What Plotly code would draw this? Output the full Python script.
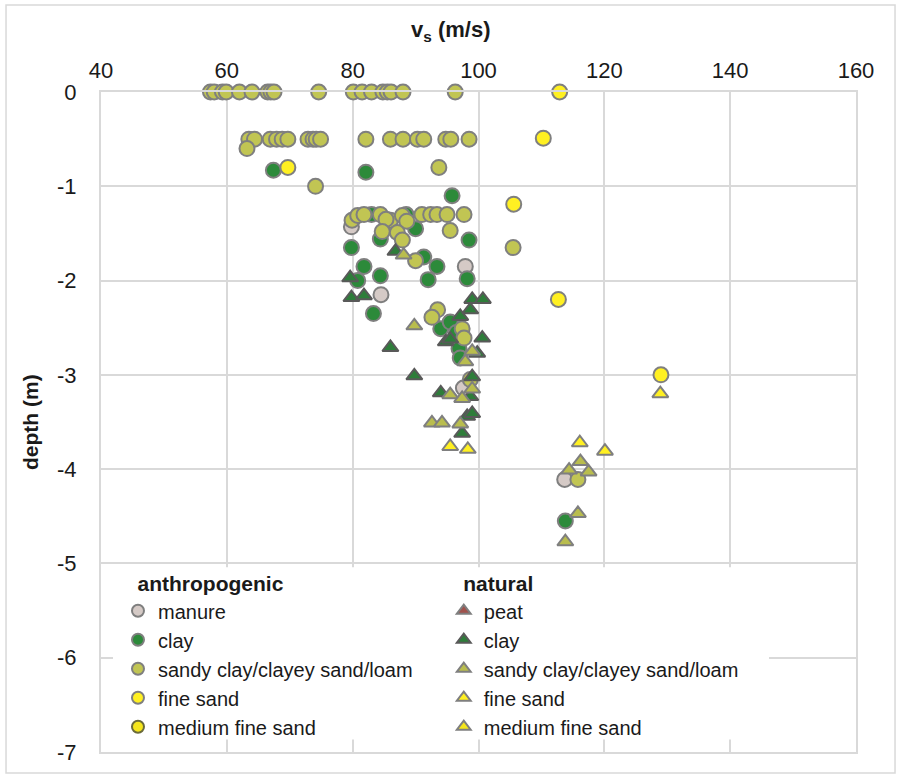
import plotly.graph_objects as go

# ---------------- data ----------------
# anthropogenic layers (circles)
manure_v = [79.8, 97.9, 84.5, 97.6, 113.7]
manure_d = [-1.43, -1.85, -2.15, -3.14, -4.11]

aclay_v = [67.4, 82.1, 95.8, 83.0, 88.5, 90.0, 84.4, 98.5, 79.8, 91.3, 81.8, 84.4,
           93.4, 98.2, 92.0, 80.8, 83.3, 94.0, 95.5, 96.5, 96.9, 97.1, 113.8]
aclay_d = [-0.83, -0.85, -1.10, -1.30, -1.30, -1.45, -1.56, -1.57, -1.65, -1.75, -1.85, -1.95,
           -1.85, -1.98, -1.99, -2.00, -2.35, -2.51, -2.44, -2.55, -2.72, -2.82, -4.55]

asandy_v = [57.4, 58.0, 59.3, 59.9, 62.0, 64.0, 66.5, 67.0, 67.5, 74.6, 80.1, 81.5,
            83.0, 84.8, 85.5, 86.1, 88.0, 96.3,
            63.5, 64.4, 66.9, 67.9, 68.8, 69.7, 72.9, 73.7, 74.2, 74.9, 82.1, 86.0,
            88.0, 90.3, 91.3, 94.8, 95.6, 98.5,
            63.2, 74.1, 93.7, 105.5,
            79.9, 80.8, 81.8, 84.4, 86.0, 87.9, 88.6, 91.0, 92.4, 93.4, 95.0, 97.7, 85.3,
            84.7, 87.1, 87.9, 95.5, 90.0, 93.5, 92.6, 97.4, 97.7, 98.7, 115.8]
asandy_d = [0, 0, 0, 0, 0, 0, 0, 0, 0, 0, 0, 0,
            0, 0, 0, 0, 0, 0,
            -0.5, -0.5, -0.5, -0.5, -0.5, -0.5, -0.5, -0.5, -0.5, -0.5, -0.5, -0.5,
            -0.5, -0.5, -0.5, -0.5, -0.5, -0.5,
            -0.60, -1.00, -0.80, -1.65,
            -1.36, -1.31, -1.30, -1.30, -1.36, -1.31, -1.37, -1.30, -1.30, -1.30, -1.30, -1.30, -1.35,
            -1.48, -1.49, -1.57, -1.47, -1.79, -2.31, -2.39, -2.51, -2.61, -3.05, -4.11]

afine_v = [112.9, 110.3, 69.7, 105.6, 112.7, 129.0]
afine_d = [0.0, -0.49, -0.80, -1.19, -2.20, -3.00]

amedium_v = []
amedium_d = []

# natural layers (triangles)
peat_v = []
peat_d = []

nclay_v = [86.8, 79.6, 79.8, 81.8, 99.0, 100.7, 86.0, 89.8, 97.1, 98.7, 94.8, 95.5,
           100.6, 99.8, 99.0, 94.0, 98.7, 98.2, 99.0, 97.4]
nclay_d = [-1.69, -1.97, -2.18, -2.16, -2.20, -2.20, -2.71, -3.01, -2.38, -2.31, -2.65, -2.62,
           -2.61, -2.77, -3.02, -3.19, -3.23, -3.44, -3.41, -3.62]

nsandy_v = [88.1, 89.8, 99.0, 97.9, 99.0, 95.5, 97.4, 92.6, 94.2, 97.1,
            116.2, 114.4, 117.5, 115.8, 113.8]
nsandy_d = [-1.73, -2.48, -2.75, -2.86, -3.15, -3.21, -3.25, -3.51, -3.51, -3.52,
            -3.92, -4.01, -4.03, -4.47, -4.77]

nfine_v = [95.5, 98.3, 116.1, 120.1, 128.9]
nfine_d = [-3.76, -3.79, -3.72, -3.81, -3.20]

nmedium_v = []
nmedium_d = []

x_ticks = [40, 60, 80, 100, 120, 140, 160]
y_ticks = [0, -1, -2, -3, -4, -5, -6, -7]

FONT = "Liberation Sans, Arial, sans-serif"
TXT = "#1a1a1a"
GRID = "#d9d9d9"
EDGE = "#7f7f7f"

fig = go.Figure()


def add(v, d, name, symbol, fill, legend, line_col=EDGE, size=15):
    fig.add_trace(go.Scatter(
        x=v if v else [None], y=d if d else [None], mode="markers", name=name,
        legend=legend, cliponaxis=False, hoverinfo="skip",
        marker=dict(symbol=symbol, size=size, color=fill,
                    line=dict(color=line_col, width=2)),
    ))


add(manure_v, manure_d, "manure", "circle", "#d5cac6", "legend")
add(aclay_v, aclay_d, "clay", "circle", "#2c8a3a", "legend")
add(asandy_v, asandy_d, "sandy clay/clayey sand/loam", "circle", "#c1c553", "legend")
add(afine_v, afine_d, "fine sand", "circle", "#fff022", "legend")
add(amedium_v, amedium_d, "medium fine sand", "circle", "#f5e61c", "legend", line_col="#6b6b3a")

add(peat_v, peat_d, "peat", "triangle-up", "#a0524c", "legend2", size=10)
add(nclay_v, nclay_d, "clay", "triangle-up", "#2e7d3a", "legend2", line_col="#595959", size=14)
add(nsandy_v, nsandy_d, "sandy clay/clayey sand/loam", "triangle-up", "#b9bd4e", "legend2", size=14)
add(nfine_v, nfine_d, "fine sand", "triangle-up", "#fff022", "legend2", size=14)
add(nmedium_v, nmedium_d, "medium fine sand", "triangle-up", "#f5e61c", "legend2", size=10)

legend_common = dict(
    bgcolor="rgba(0,0,0,0)", borderwidth=0,
    font=dict(family=FONT, size=20, color=TXT),
    yanchor="top", xanchor="left", tracegroupgap=0, itemwidth=30,
    itemsizing="constant",
)
NB = "\u00a0\u00a0\u00a0"

fig.update_layout(
    width=901, height=778,
    margin=dict(l=101, r=45, t=92, b=26),
    paper_bgcolor="white", plot_bgcolor="white",
    font=dict(family=FONT, size=20, color=TXT),
    showlegend=True,
    hovermode=False,
    legend=dict(**legend_common, x=0.0225, y=0.285,
                title=dict(text=NB + "<b>anthropogenic</b>", font=dict(family=FONT, size=21, color=TXT))),
    legend2=dict(**legend_common, x=0.454, y=0.285,
                 title=dict(text=NB + "<b>natural</b>", font=dict(family=FONT, size=21, color=TXT))),
    xaxis=dict(
        side="top", range=[40, 160], tickvals=x_ticks, ticktext=[str(t) for t in x_ticks],
        showgrid=True, gridcolor=GRID, gridwidth=2, zeroline=False, automargin=False,
        showline=True, linecolor=GRID, linewidth=2, mirror=True, ticks="",
        ticklabelstandoff=3,
        tickfont=dict(family=FONT, size=22, color=TXT),
    ),
    yaxis=dict(
        range=[-7, 0], tickvals=y_ticks, ticktext=[str(t) for t in y_ticks],
        showgrid=True, gridcolor=GRID, gridwidth=2, zeroline=False, automargin=False,
        showline=True, linecolor=GRID, linewidth=2, mirror=True, ticks="",
        ticklabelstandoff=18,
        tickfont=dict(family=FONT, size=22, color=TXT),
    ),
    annotations=[
        dict(text="<b>v<sub>s</sub> (m/s)</b>", xref="paper", yref="paper",
             x=0.4636, y=1.0924, xanchor="center", yanchor="middle", showarrow=False,
             font=dict(family=FONT, size=22, color=TXT)),
        dict(text="<b>depth (m)</b>", xref="paper", yref="paper",
             x=-0.094, y=0.5, xanchor="center", yanchor="middle", showarrow=False,
             textangle=-90, font=dict(family=FONT, size=21, color=TXT)),
    ],
    shapes=[
        # white legend box hiding the gridlines behind the legend
        dict(type="rect", xref="paper", yref="paper", x0=0.0159, x1=0.8848, y0=0.019, y1=0.28,
             fillcolor="white", line=dict(width=0), layer="above"),
        # chart-area frame
        dict(type="rect", xref="paper", yref="paper", x0=-0.1258, x1=1.0517, y0=-0.0318, y1=1.1318,
             fillcolor="rgba(0,0,0,0)", line=dict(color=GRID, width=1.5), layer="above"),
    ],
)

fig.write_html("out.html", config={"displayModeBar": False},
               post_script="document.body.style.margin='0px';")
